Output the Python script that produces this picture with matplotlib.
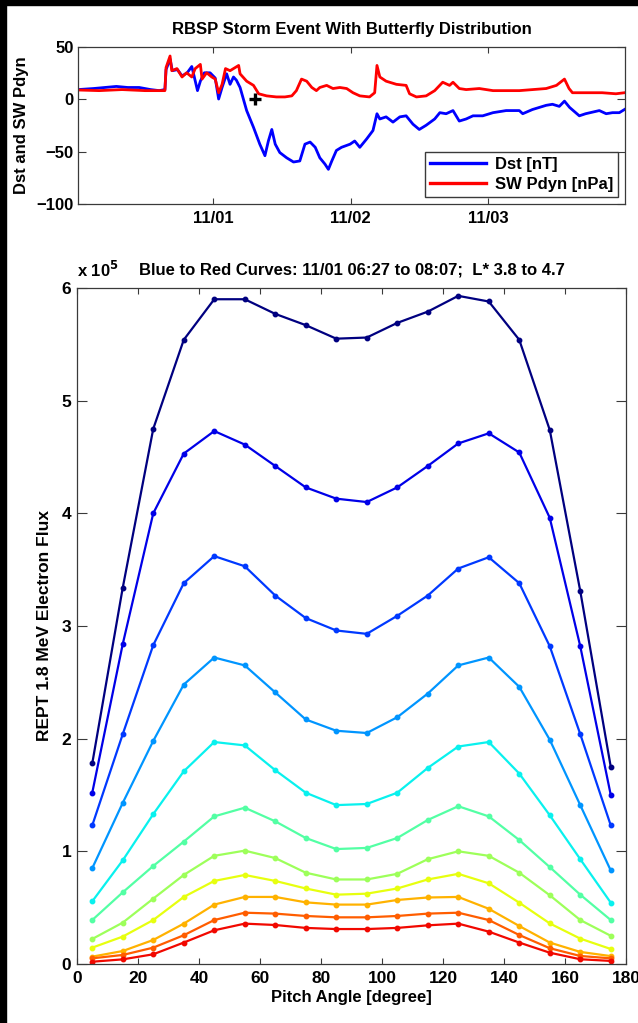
import datetime as dt

import matplotlib
matplotlib.use("Agg")
import matplotlib.pyplot as plt
import matplotlib.dates as mdates
import numpy as np
from matplotlib.patches import Rectangle
from matplotlib.ticker import FuncFormatter

# ---- top panel: Dst and solar wind dynamic pressure (hours from 2012-11-01 00:00)
dst_hours = [-23.7, -21, -19, -17, -15, -13, -11, -9.5, -8.5, -8.3, -7.6, -7.2, -6.3, -5.5,
             -4.6, -3.8, -3.4, -2.8, -2.3, -1.6, -0.6, 0.3, 0.9, 1.5, 2.3, 2.9, 3.5, 4.0,
             4.65, 5.8, 7.0, 8.1, 9.0, 9.6, 10.2, 10.8, 11.6, 12.8, 14.0, 15.1, 16.0, 16.9,
             17.8, 18.6, 19.5, 20.1, 20.7, 21.5, 22.4, 23.9, 24.7, 25.6, 26.8, 27.9, 28.6,
             29.1, 30.2, 31.4, 32.6, 33.7, 34.9, 36.0, 37.2, 38.7, 39.6, 40.7, 41.9, 43.0,
             44.2, 45.4, 47.1, 48.9, 51.2, 53.5, 54.1, 55.8, 58.2, 59.3, 60.5, 61.4, 62.3,
             64.0, 65.1, 67.5, 68.7, 69.8, 71.0, 71.9]
dst_values = [9, 10, 11, 12, 11, 11, 9, 8, 9, 28, 38, 27, 28, 22,
              25, 31, 22, 8, 17, 25, 25, 20, 0, 11, 24, 14, 21, 18,
              11, -11, -27, -43, -54, -40, -29, -43, -51, -56, -60, -59, -43, -41,
              -46, -56, -62, -67, -59, -49, -46, -43, -40, -46, -38, -30, -14,
              -19, -17, -22, -17, -16, -24, -29, -25, -19, -13, -14, -11, -21,
              -19, -16, -16, -13, -11, -11, -14, -10, -6, -5, -7, -2, -8,
              -16, -14, -11, -14, -13, -13, -10]

pdyn_hours = [-23.7, -20, -16, -12, -8.5, -8.3, -7.6, -7.3, -6.4, -5.5, -4.7, -3.8, -3.2,
              -2.3, -2.0, -1.2, -0.3, 0.3, 0.9, 1.5, 2.1, 2.9, 3.8, 4.4, 4.65, 5.8, 7.0,
              7.9, 9.3, 11.0, 12.5, 13.7, 14.5, 15.4, 16.3, 17.2, 18.0, 18.6, 19.8, 20.9,
              22.1, 23.3, 24.4, 25.6, 27.3, 28.2, 28.6, 29.1, 30.2, 32.0, 33.7, 34.3, 35.5,
              37.2, 38.7, 40.1, 41.3, 41.9, 43.0, 44.2, 46.5, 48.9, 50.0, 53.5, 58.2, 60.0,
              61.4, 62.2, 62.8, 65.1, 68.0, 70.4, 71.9]
pdyn_values = [8.6, 8, 9, 8, 8, 30, 41, 27, 29, 21, 25, 21, 29,
               33, 19, 25, 21, 19, 6, 14, 29, 27, 30, 32, 24, 17, 13,
               5, 3, 2, 2, 3, 8, 19, 17, 11, 8, 11, 13, 10,
               11, 10, 6, 3, 2, 6, 32, 21, 17, 14, 13, 5, 2,
               3, 8, 16, 13, 16, 10, 9, 10, 8, 8, 8, 10, 13,
               19, 10, 6, 6, 6, 5, 6]

marker_hour = 7.28  # middle of the 06:27-08:07 window
marker_value = 0

# ---- bottom panel: REPT 1.8 MeV flux vs pitch angle (units of 1e5)
pitch_angle = [5, 15, 25, 35, 45, 55, 65, 75, 85, 95, 105, 115, 125, 135, 145, 155, 165, 175]
flux_1 = [1.78, 3.34, 4.75, 5.54, 5.90, 5.90, 5.77, 5.67, 5.55, 5.56, 5.69, 5.79, 5.93, 5.88, 5.54, 4.74, 3.31, 1.75]
flux_2 = [1.52, 2.84, 4.00, 4.53, 4.73, 4.61, 4.42, 4.23, 4.13, 4.10, 4.23, 4.42, 4.62, 4.71, 4.54, 3.96, 2.82, 1.50]
flux_3 = [1.23, 2.04, 2.83, 3.38, 3.62, 3.53, 3.27, 3.07, 2.96, 2.93, 3.09, 3.27, 3.51, 3.61, 3.38, 2.82, 2.04, 1.23]
flux_4 = [0.85, 1.43, 1.98, 2.48, 2.72, 2.65, 2.41, 2.17, 2.07, 2.05, 2.19, 2.40, 2.65, 2.72, 2.46, 1.99, 1.41, 0.83]
flux_5 = [0.556, 0.92, 1.33, 1.71, 1.97, 1.94, 1.72, 1.52, 1.41, 1.42, 1.52, 1.74, 1.93, 1.97, 1.69, 1.32, 0.93, 0.544]
flux_6 = [0.39, 0.636, 0.87, 1.086, 1.31, 1.387, 1.266, 1.118, 1.02, 1.03, 1.118, 1.278, 1.40, 1.31, 1.10, 0.86, 0.615, 0.39]
flux_7 = [0.222, 0.367, 0.58, 0.79, 0.96, 1.006, 0.94, 0.81, 0.75, 0.75, 0.80, 0.93, 1.0, 0.96, 0.81, 0.61, 0.39, 0.25]
flux_8 = [0.145, 0.243, 0.39, 0.595, 0.737, 0.79, 0.737, 0.67, 0.615, 0.624, 0.67, 0.75, 0.80, 0.716, 0.544, 0.36, 0.225, 0.133]
flux_9 = [0.065, 0.115, 0.213, 0.358, 0.527, 0.595, 0.595, 0.547, 0.527, 0.527, 0.568, 0.59, 0.595, 0.49, 0.337, 0.19, 0.107, 0.07]
flux_10 = [0.05, 0.08, 0.145, 0.255, 0.39, 0.455, 0.447, 0.426, 0.414, 0.414, 0.426, 0.447, 0.455, 0.39, 0.257, 0.14, 0.071, 0.05]
flux_11 = [0.02, 0.041, 0.086, 0.19, 0.299, 0.358, 0.346, 0.32, 0.31, 0.31, 0.32, 0.343, 0.358, 0.287, 0.19, 0.10, 0.042, 0.027]
flux_curves = [flux_1, flux_2, flux_3, flux_4, flux_5, flux_6, flux_7, flux_8, flux_9, flux_10, flux_11]

FLUX_SCALE = 1e5
BASE = dt.datetime(2012, 11, 1)
SPINE_COLOR = "#3a3a3a"

plt.rcParams.update(
    {
        "font.family": ["Liberation Sans", "DejaVu Sans"],
        "font.weight": "bold",
        "font.size": 12,
        "axes.labelweight": "bold",
        "axes.titleweight": "bold",
        "axes.edgecolor": SPINE_COLOR,
        "axes.linewidth": 0.9,
        "xtick.direction": "in",
        "ytick.direction": "in",
        "xtick.top": True,
        "ytick.right": True,
        "xtick.color": SPINE_COLOR,
        "ytick.color": SPINE_COLOR,
        "xtick.labelcolor": "black",
        "ytick.labelcolor": "black",
    }
)


def to_time(hours):
    return [BASE + dt.timedelta(hours=h) for h in hours]


fig = plt.figure(figsize=(6.38, 10.23), dpi=100, facecolor="white")

# black screen border on the left and top edges
fig.add_artist(Rectangle((0, 0), 6 / 638, 1, transform=fig.transFigure, color="black", zorder=10))
fig.add_artist(Rectangle((0, 1 - 5 / 1023), 1, 5 / 1023, transform=fig.transFigure, color="black", zorder=10))

# ---- top panel
ax_top = fig.add_axes([0.1223, 0.8006, 0.8574, 0.1539])
ax_top.plot(to_time(dst_hours), dst_values, color="#0000ff", lw=2.0, label="Dst [nT]")
ax_top.plot(to_time(pdyn_hours), pdyn_values, color="#ff0000", lw=2.0, label="SW Pdyn [nPa]")
ax_top.plot(to_time([marker_hour]), [marker_value], "+", color="black", ms=8, mew=2.4)

ax_top.set_xlim(BASE + dt.timedelta(hours=-23.7), BASE + dt.timedelta(hours=72))
ax_top.set_ylim(-100, 50)
ax_top.set_yticks([-100, -50, 0, 50])
ax_top.set_xticks(to_time([0, 24, 48]))
ax_top.xaxis.set_major_formatter(mdates.DateFormatter("%m/%d"))
ax_top.tick_params(axis="x", length=4, pad=5, labelsize=12)
ax_top.tick_params(axis="y", length=6, pad=3, labelsize=12)
ax_top.set_ylabel("Dst and SW Pdyn", fontsize=12)
ax_top.yaxis.set_label_coords(-0.09, 0.5)
ax_top.set_title("RBSP Storm Event With Butterfly Distribution", fontsize=12, pad=9)

legend = ax_top.legend(
    loc="lower right",
    bbox_to_anchor=(0.987, 0.044),
    borderaxespad=0,
    fancybox=False,
    framealpha=1,
    edgecolor=SPINE_COLOR,
    handlelength=3.4,
    handletextpad=0.5,
    borderpad=0.3,
    labelspacing=0.3,
    fontsize=12,
)
for line in legend.get_lines():
    line.set_linewidth(2.4)

# ---- bottom panel
ax = fig.add_axes([0.1207, 0.0577, 0.8605, 0.6608])
colors = plt.get_cmap("jet")(np.linspace(0, 0.9, len(flux_curves)))
for values, color in zip(flux_curves, colors):
    ax.plot(
        pitch_angle,
        np.array(values) * FLUX_SCALE,
        color=color,
        lw=1.6,
        marker="o",
        ms=3.2,
    )

ax.set_xlim(0, 180)
ax.set_ylim(0, 6 * FLUX_SCALE)
ax.set_xticks(np.arange(0, 181, 20))
ax.set_yticks(np.arange(0, 7) * FLUX_SCALE)
ax.yaxis.set_major_formatter(FuncFormatter(lambda v, _: f"{v / FLUX_SCALE:g}"))
ax.tick_params(axis="x", length=4, pad=5, labelsize=12.5)
ax.tick_params(axis="y", length=7, pad=4, labelsize=12.5)
ax.set_xlabel("Pitch Angle [degree]", fontsize=12, labelpad=3)
ax.set_ylabel("REPT 1.8 MeV Electron Flux", fontsize=12.5)
ax.yaxis.set_label_coords(-0.045, 0.5)
ax.set_title("Blue to Red Curves: 11/01 06:27 to 08:07;  L* 3.8 to 4.7", fontsize=12, pad=10)
ax.text(0.0, 1.012, r"x 10$^{\mathbf{5}}$", transform=ax.transAxes, ha="left", va="bottom", fontsize=12)

fig.savefig("out.png", dpi=100, facecolor="white")
